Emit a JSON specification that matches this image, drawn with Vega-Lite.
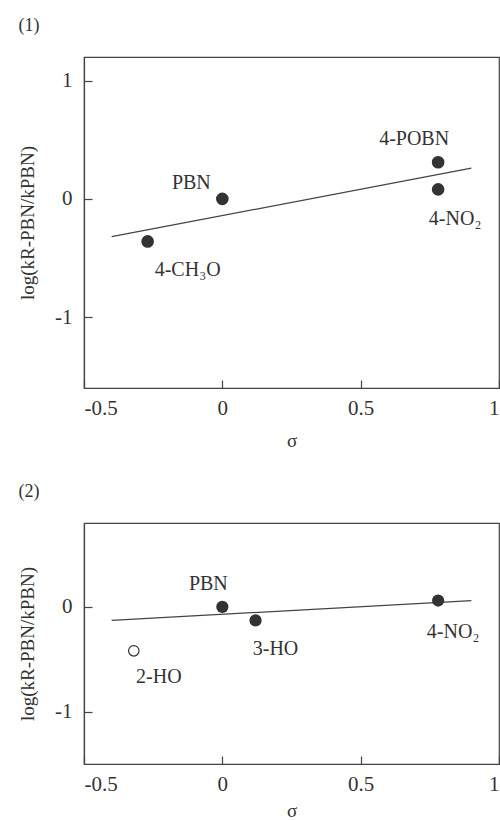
{
  "$schema": "https://vega.github.io/schema/vega-lite/v6.json",
  "padding": {"top": 16, "left": 17, "right": 0, "bottom": 0},
  "background": "white",
  "spacing": 31,
  "datasets": {
    "p1": [
      {"name": "4-CH₃O", "sigma": -0.27, "logk": -0.36},
      {"name": "PBN", "sigma": 0.0, "logk": 0.0},
      {"name": "4-POBN", "sigma": 0.78, "logk": 0.31},
      {"name": "4-NO₂", "sigma": 0.78, "logk": 0.08}
    ],
    "l1": [
      {"sigma": -0.4, "logk": -0.32},
      {"sigma": 0.9, "logk": 0.26}
    ],
    "p2": [
      {"name": "2-HO", "sigma": -0.32, "logk": -0.42, "fit": "no"},
      {"name": "PBN", "sigma": 0.0, "logk": 0.0, "fit": "yes"},
      {"name": "3-HO", "sigma": 0.12, "logk": -0.13, "fit": "yes"},
      {"name": "4-NO₂", "sigma": 0.78, "logk": 0.06, "fit": "yes"}
    ],
    "l2": [
      {"sigma": -0.4, "logk": -0.13},
      {"sigma": 0.9, "logk": 0.06}
    ]
  },
  "vconcat": [
    {
      "width": 415,
      "height": 331,
      "title": {"text": "(1)", "anchor": "start", "frame": "bounds", "offset": 22},
      "encoding": {
        "x": {"field": "sigma", "type": "quantitative", "title": "σ",
              "scale": {"domain": [-0.5, 1], "nice": false, "zero": false},
              "axis": {"values": [-0.5, 0, 0.5, 1]}},
        "y": {"field": "logk", "type": "quantitative", "title": "log(kR-PBN/kPBN)",
              "scale": {"domain": [-1.6, 1.2], "nice": false, "zero": false},
              "axis": {"values": [-1, 0, 1]}}
      },
      "layer": [
        {"data": {"name": "l1"}, "mark": {"type": "line", "color": "#444", "strokeWidth": 1.3}},
        {"data": {"name": "p1"}, "mark": {"type": "point", "filled": true, "size": 160, "color": "#333", "opacity": 1}},
        {"data": {"name": "p1"}, "transform": [{"filter": "datum.name === 'PBN'"}],
         "mark": {"type": "text", "dx": -31, "dy": -16}, "encoding": {"text": {"field": "name"}}},
        {"data": {"name": "p1"}, "transform": [{"filter": "datum.name === '4-CH₃O'"}],
         "mark": {"type": "text", "dx": 40, "dy": 29}, "encoding": {"text": {"field": "name"}}},
        {"data": {"name": "p1"}, "transform": [{"filter": "datum.name === '4-POBN'"}],
         "mark": {"type": "text", "dx": -24, "dy": -23}, "encoding": {"text": {"field": "name"}}},
        {"data": {"name": "p1"}, "transform": [{"filter": "datum.name === '4-NO₂'"}],
         "mark": {"type": "text", "dx": 17, "dy": 30}, "encoding": {"text": {"field": "name"}}}
      ]
    },
    {
      "width": 415,
      "height": 241,
      "title": {"text": "(2)", "anchor": "start", "frame": "bounds", "offset": 22},
      "encoding": {
        "x": {"field": "sigma", "type": "quantitative", "title": "σ",
              "scale": {"domain": [-0.5, 1], "nice": false, "zero": false},
              "axis": {"values": [-0.5, 0, 0.5, 1], "titlePadding": 7}},
        "y": {"field": "logk", "type": "quantitative", "title": "log(kR-PBN/kPBN)",
              "scale": {"domain": [-1.5, 0.8], "nice": false, "zero": false},
              "axis": {"values": [-1, 0]}}
      },
      "layer": [
        {"data": {"name": "l2"}, "mark": {"type": "line", "color": "#444", "strokeWidth": 1.3}},
        {"data": {"name": "p2"}, "transform": [{"filter": "datum.fit === 'yes'"}],
         "mark": {"type": "point", "filled": true, "size": 150, "color": "#333", "opacity": 1}},
        {"data": {"name": "p2"}, "transform": [{"filter": "datum.fit === 'no'"}],
         "mark": {"type": "point", "filled": false, "size": 110, "color": "#333", "strokeWidth": 1.2, "opacity": 1}},
        {"data": {"name": "p2"}, "transform": [{"filter": "datum.name === 'PBN'"}],
         "mark": {"type": "text", "dx": -14, "dy": -23}, "encoding": {"text": {"field": "name"}}},
        {"data": {"name": "p2"}, "transform": [{"filter": "datum.name === '3-HO'"}],
         "mark": {"type": "text", "dx": 20, "dy": 29}, "encoding": {"text": {"field": "name"}}},
        {"data": {"name": "p2"}, "transform": [{"filter": "datum.name === '4-NO₂'"}],
         "mark": {"type": "text", "dx": 15, "dy": 31}, "encoding": {"text": {"field": "name"}}},
        {"data": {"name": "p2"}, "transform": [{"filter": "datum.name === '2-HO'"}],
         "mark": {"type": "text", "dx": 25, "dy": 26}, "encoding": {"text": {"field": "name"}}}
      ]
    }
  ],
  "config": {
    "view": {"stroke": "#444", "strokeWidth": 1.2},
    "font": "Liberation Serif",
    "text": {"font": "Liberation Serif", "fontSize": 20, "color": "#333", "align": "center", "baseline": "middle"},
    "title": {"font": "Liberation Serif", "fontSize": 18, "fontWeight": "normal", "color": "#333"},
    "axis": {
      "grid": false,
      "zindex": 1,
      "labelFont": "Liberation Serif",
      "labelFontSize": 21,
      "labelColor": "#333",
      "labelExpr": "replace(format(datum.value, '~g'), '−', '-')",
      "titleFont": "Liberation Serif",
      "titleFontSize": 19,
      "titleFontWeight": "normal",
      "titleColor": "#333",
      "domainColor": "#444",
      "domainWidth": 1.2,
      "tickColor": "#444",
      "tickWidth": 1.2,
      "ticks": true,
      "tickSize": -8
    },
    "axisX": {"labelPadding": 17, "titlePadding": 13},
    "axisY": {"labelPadding": 20, "titlePadding": 17}
  }
}
